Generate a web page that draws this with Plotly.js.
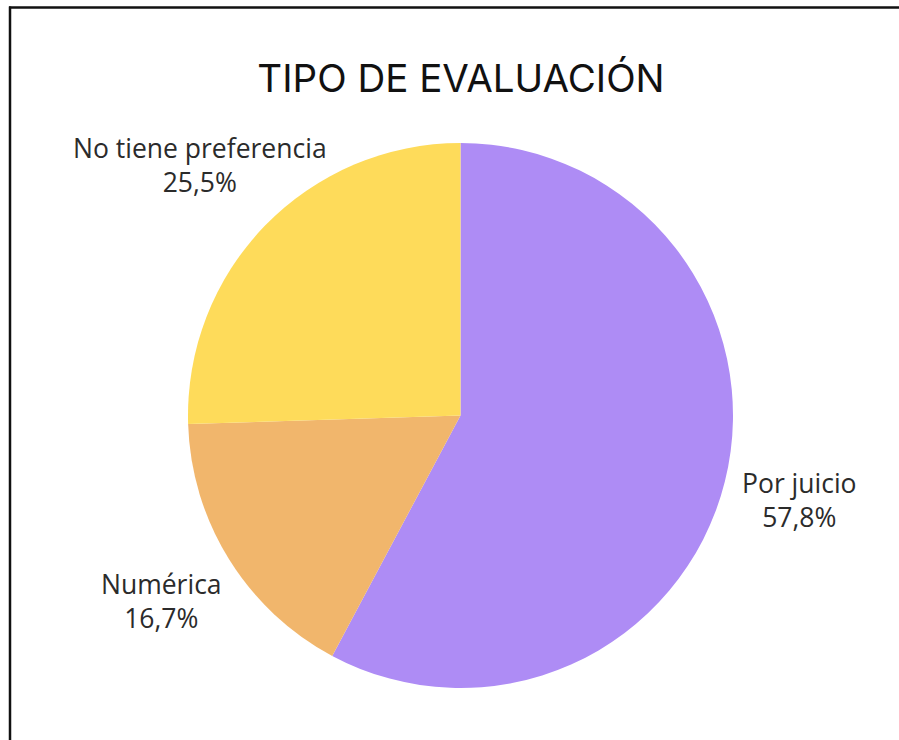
<!DOCTYPE html>
<html>
<head>
<meta charset="utf-8">
<script src="https://cdn.plot.ly/plotly-3.0.1.min.js"></script>
<style>
html,body{margin:0;padding:0;background:#fff;}
#chart{width:899px;height:740px;}
</style>
</head>
<body>
<div id="chart"></div>
<script>
const chartTitle = 'TIPO DE EVALUACIÓN';
const categories = ['Por juicio', 'Numérica', 'No tiene preferencia'];
const values = [57.8, 16.7, 25.5];
const colors = ['#AE8CF5', '#F1B66C', '#FEDB5A'];

// label centre positions (pixels in the 899x740 figure)
const labelPos = [[799, 500], [161, 601], [200, 165]];

const W = 899, H = 740;
const total = values.reduce((a, b) => a + b, 0);
const pct = values.map(v => (v / total * 100).toFixed(1).replace('.', ',') + '%');

const annotations = categories.map((c, i) => ({
  text: c + '<br>' + pct[i],
  x: labelPos[i][0] / W, y: 1 - labelPos[i][1] / H, xref: 'paper', yref: 'paper',
  xanchor: 'center', yanchor: 'middle', align: 'center', showarrow: false,
  font: {family: 'Open Sans', size: 26.5, color: '#2b2b2b'}
}));

const data = [{
  type: 'pie',
  labels: categories,
  values: values,
  sort: false,
  direction: 'clockwise',
  rotation: 0,
  marker: {colors: colors, line: {width: 0}},
  textinfo: 'none',
  hoverinfo: 'label+percent',
  domain: {x: [188 / W, 733 / W], y: [1 - 688 / H, 1 - 143 / H]},
  showlegend: false
}];

const layout = {
  width: W, height: H,
  margin: {l: 0, r: 0, t: 0, b: 0},
  paper_bgcolor: '#ffffff',
  separators: ',.',
  title: {text: chartTitle, x: 461 / W, xanchor: 'center', y: 1 - 79 / H, yanchor: 'middle',
    font: {family: 'Inter', size: 38.5, color: '#111111'}},
  annotations: annotations,
  shapes: [
    {type: 'line', xref: 'paper', yref: 'paper', x0: 9 / W, x1: 1, y0: 1 - 7.5 / H, y1: 1 - 7.5 / H,
      line: {color: '#111', width: 2.5}},
    {type: 'line', xref: 'paper', yref: 'paper', x0: 10 / W, x1: 10 / W, y0: 0, y1: 1 - 6.5 / H,
      line: {color: '#111', width: 2.5}}
  ]
};

Plotly.newPlot('chart', data, layout, {displayModeBar: false, staticPlot: true});
</script>
</body>
</html>
